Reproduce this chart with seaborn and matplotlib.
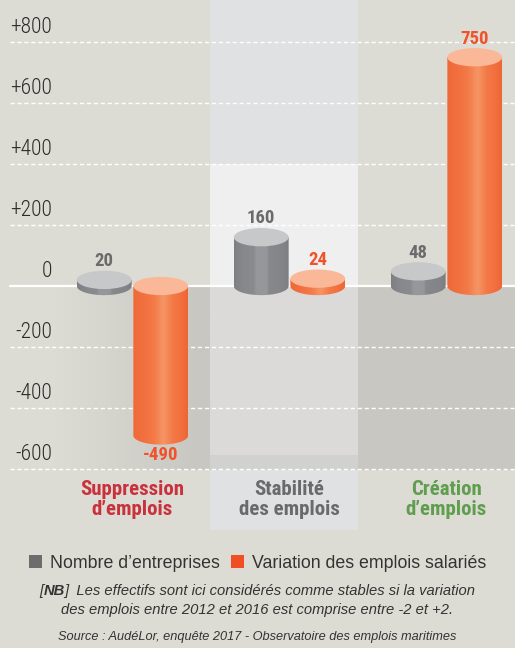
import numpy as np
import pandas as pd
import matplotlib
matplotlib.use("Agg")
import matplotlib.pyplot as plt
import seaborn as sns
from matplotlib.patches import Ellipse, Rectangle, PathPatch, Patch
from matplotlib.path import Path
from matplotlib import font_manager as fm
import matplotlib.colors as mcolors
import matplotlib.transforms as mtransforms

# ---------------- data ----------------
categories = ["Suppression\nd’emplois", "Stabilité\ndes emplois", "Création\nd’emplois"]
category_colors = ["#C8323C", "#6A6A6A", "#5E9E4E"]
series = ["Nombre d’entreprises", "Variation des emplois salariés"]
entreprises = [20, 160, 48]
emplois = [-490, 24, 750]
yticks = [800, 600, 400, 200, 0, -200, -400, -600]
ytick_labels = ["+800", "+600", "+400", "+200", "0", "-200", "-400", "-600"]
note_line1 = ["[", "NB", "]  Les effectifs sont ici considérés comme stables si la variation"]
note_line2 = "des emplois entre 2012 et 2016 est comprise entre -2 et +2."
source = "Source : AudéLor, enquête 2017 - Observatoire des emplois maritimes"

# ---------------- style ----------------
BEIGE = "#DDDCD4"
GRAY = "#88898D"
ORANGE = "#F26F3E"
GRAY_TOP = "#C7C8CA"
ORANGE_TOP = "#FBB898"
GRAY_LEG = "#6D6D6D"
ORANGE_LEG = "#F04E23"

sns.set_theme(style="white")
names = {f.name for f in fm.fontManager.ttflist}
narrow = None
for c in ["Liberation Sans Narrow", "Roboto Condensed", "Arial Narrow", "Open Sans Condensed"]:
    if c in names:
        narrow = c
        break
if narrow:
    NARROW = dict(family=[narrow, "DejaVu Sans"])
elif any(f.name == "DejaVu Sans" and f.stretch == "condensed" for f in fm.fontManager.ttflist):
    NARROW = dict(family="DejaVu Sans", stretch="condensed")
else:
    NARROW = dict(family=["Liberation Sans", "DejaVu Sans"])
BODY = ["Liberation Sans", "DejaVu Sans"]
plt.rcParams["font.family"] = BODY

W_PX, H_PX = 515, 648
fig = plt.figure(figsize=(W_PX / 100, H_PX / 100), dpi=100, facecolor=BEIGE)
AX_H = 530
ax = fig.add_axes([0, 1 - AX_H / H_PX, 1, AX_H / H_PX])

# pixel geometry -> data limits
ZERO_PX = 286.0
SCALE = 0.305            # px per unit
GROUP_PX = [132.5, 290, 446.5]
SPACING = 157.0
ylim = (-(AX_H - ZERO_PX) / SCALE, ZERO_PX / SCALE)
xlim = (-GROUP_PX[0] / SPACING, (W_PX - GROUP_PX[0]) / SPACING)
px2x = lambda p: (p - GROUP_PX[0]) / SPACING

df = pd.DataFrame({
    "categorie": categories * 2,
    "serie": [series[0]] * len(categories) + [series[1]] * len(categories),
    "valeur": entreprises + emplois,
})
sns.barplot(data=df, x="categorie", y="valeur", hue="serie", hue_order=series,
            palette=[GRAY, ORANGE], width=0.72, gap=0.03, legend=False,
            errorbar=None, saturation=1, ax=ax)

# ---------------- backgrounds ----------------
mid0, mid1 = px2x(210), px2x(358)
ax.add_patch(Rectangle((xlim[0], ylim[0]), xlim[1] - xlim[0], ylim[1] - ylim[0],
                       facecolor=BEIGE, edgecolor="none", zorder=0.1))
ax.add_patch(Rectangle((mid0, 400), mid1 - mid0, ylim[1] - 400, facecolor="#E0E1E3", edgecolor="none", zorder=0.2))
ax.add_patch(Rectangle((mid0, 0), mid1 - mid0, 400, facecolor="#EFEFEF", edgecolor="none", zorder=0.2))
ax.add_patch(Rectangle((mid0, -554), mid1 - mid0, 554, facecolor="#DBDAD8", edgecolor="none", zorder=0.2))
ax.add_patch(Rectangle((mid0, -603), mid1 - mid0, 49, facecolor="#D1D1CF", edgecolor="none", zorder=0.2))
ax.add_patch(Rectangle((mid0, ylim[0]), mid1 - mid0, -603 - ylim[0], facecolor="#E0E1E3", edgecolor="none", zorder=0.2))
ax.add_patch(Rectangle((mid1, -603), xlim[1] - mid1, 603, facecolor="#C8C7C2", edgecolor="none", zorder=0.2))
# left column gradient below zero
c_a = np.array(mcolors.to_rgb(BEIGE))
c_b = np.array(mcolors.to_rgb("#C8C7C2"))
pxs = np.linspace(0, 210, 120)
t = np.clip((pxs - 55) / (200 - 55), 0, 1)[:, None]
grad = (c_a * (1 - t) + c_b * t)[None, :, :]
ax.imshow(grad, extent=[xlim[0], mid0, -603, 0], aspect="auto", origin="lower",
          interpolation="bilinear", zorder=0.2)

# ---------------- grid ----------------
for tv in yticks:
    if tv == 0:
        ax.axhline(0, xmin=10 / W_PX, xmax=1, color="white", lw=1.6, zorder=1)
    else:
        ax.axhline(tv, xmin=10 / W_PX, xmax=1, color="white", lw=1.0, ls=(0, (3, 2)), zorder=1)

tr_y = mtransforms.blended_transform_factory(ax.transAxes, ax.transData)
for tv, lab in zip(yticks, ytick_labels):
    ax.text(52 / W_PX, tv + 46, lab, transform=tr_y, ha="right", va="center",
            fontsize=15.5, fontweight="light", color="#2B2B2B", **NARROW)

# ---------------- cylinders ----------------
def profile(stops):
    pos = np.linspace(0, 1, 80)
    ps = [s[0] for s in stops]
    cols = np.array([mcolors.to_rgb(s[1]) for s in stops])
    out = np.stack([np.interp(pos, ps, cols[:, k]) for k in range(3)], axis=1)
    return out[None, :, :]

gray_grad = profile([(0, "#7E7F83"), (0.15, "#87888C"), (0.36, "#8A8B8F"), (0.40, "#96979A"),
                     (0.60, "#96979A"), (0.64, "#87888C"), (0.9, "#838488"), (1, "#7C7D81")])
orange_grad = profile([(0, "#EE6A38"), (0.2, "#F2703F"), (0.38, "#F37A48"), (0.56, "#F69565"),
                       (0.72, "#F37A48"), (0.9, "#F26E3D"), (1, "#EC6735")])
EH = 60.0
value_sets = [entreprises, emplois]
tops = [GRAY_TOP, ORANGE_TOP]
grads = [gray_grad, orange_grad]
lab_cols = ["#6B6B6B", "#F0532B"]

for k, cont in enumerate(ax.containers):
    for patch in cont.patches:
        x0, w = patch.get_x(), patch.get_width()
        y0, h = patch.get_y(), patch.get_height()
        lo, hi = min(y0, y0 + h), max(y0, y0 + h)
        cx = x0 + w / 2
        x1 = x0 + w
        patch.set_visible(False)
        tt = np.linspace(np.pi, 2 * np.pi, 60)
        arc = np.column_stack([cx + w / 2 * np.cos(tt), lo + EH / 2 * np.sin(tt)])
        verts = np.vstack([[(x0, hi), (x0, lo)], arc, [(x1, lo), (x1, hi), (x0, hi)]])
        clip = PathPatch(Path(verts), transform=ax.transData, facecolor="none", edgecolor="none")
        im = ax.imshow(grads[k], extent=[x0, x1, lo - EH / 2 - 5, hi], aspect="auto",
                       origin="lower", interpolation="bilinear", zorder=3)
        im.set_clip_path(clip)
        ax.add_patch(Ellipse((cx, hi), w, EH, facecolor=tops[k], edgecolor="none", zorder=4))
        idx = int(round(cx))
        v = value_sets[k][idx]
        if v >= 0:
            ax.annotate(f"{v}", (cx, hi), xytext=(0, 13.5), textcoords="offset points",
                        ha="center", va="center", fontsize=13.5, fontweight="bold",
                        color=lab_cols[k], zorder=5, **NARROW)
        else:
            ax.annotate(f"{v}", (cx, lo), xytext=(0, -14), textcoords="offset points",
                        ha="center", va="center", fontsize=13.5, fontweight="bold",
                        color=lab_cols[k], zorder=5, **NARROW)

# category labels
for i, (cat, col) in enumerate(zip(categories, category_colors)):
    ax.text(i, -700, cat, ha="center", va="center", fontsize=15, fontweight="bold",
            color=col, linespacing=1.08, zorder=5, **NARROW)

ax.set_xlim(*xlim)
ax.set_ylim(*ylim)
ax.set_axis_off()

# ---------------- legend & notes ----------------
leg = fig.legend(handles=[Patch(facecolor=GRAY_LEG, edgecolor="none", label=series[0]),
                          Patch(facecolor=ORANGE_LEG, edgecolor="none", label=series[1])],
                 loc="center", bbox_to_anchor=(0.5, 1 - 563 / H_PX), ncol=2, frameon=False,
                 fontsize=12.8, handlelength=0.75, handleheight=0.75, handletextpad=0.45,
                 columnspacing=0.62, borderpad=0, borderaxespad=0)
for tx in leg.get_texts():
    tx.set_color("#333333")

NOTE_FS = 10.6
fig.canvas.draw()
renderer = fig.canvas.get_renderer()
pieces = []
for j, s in enumerate(note_line1):
    pieces.append(fig.text(0, 1 - 591 / H_PX, s, fontsize=NOTE_FS, style="italic",
                           fontweight="bold" if j == 1 else "normal", color="#333333",
                           va="center", ha="left"))
widths = [p.get_window_extent(renderer).width for p in pieces]
start = W_PX / 2 - sum(widths) / 2
for p, wd in zip(pieces, widths):
    p.set_x(start / W_PX)
    start += wd
fig.text(0.5, 1 - 610 / H_PX, note_line2, fontsize=NOTE_FS, style="italic", color="#333333",
         ha="center", va="center")
fig.text(0.5, 1 - 637 / H_PX, source, fontsize=9.2, style="italic", color="#333333",
         ha="center", va="center")

fig.savefig("out.png", dpi=100, facecolor=BEIGE)
